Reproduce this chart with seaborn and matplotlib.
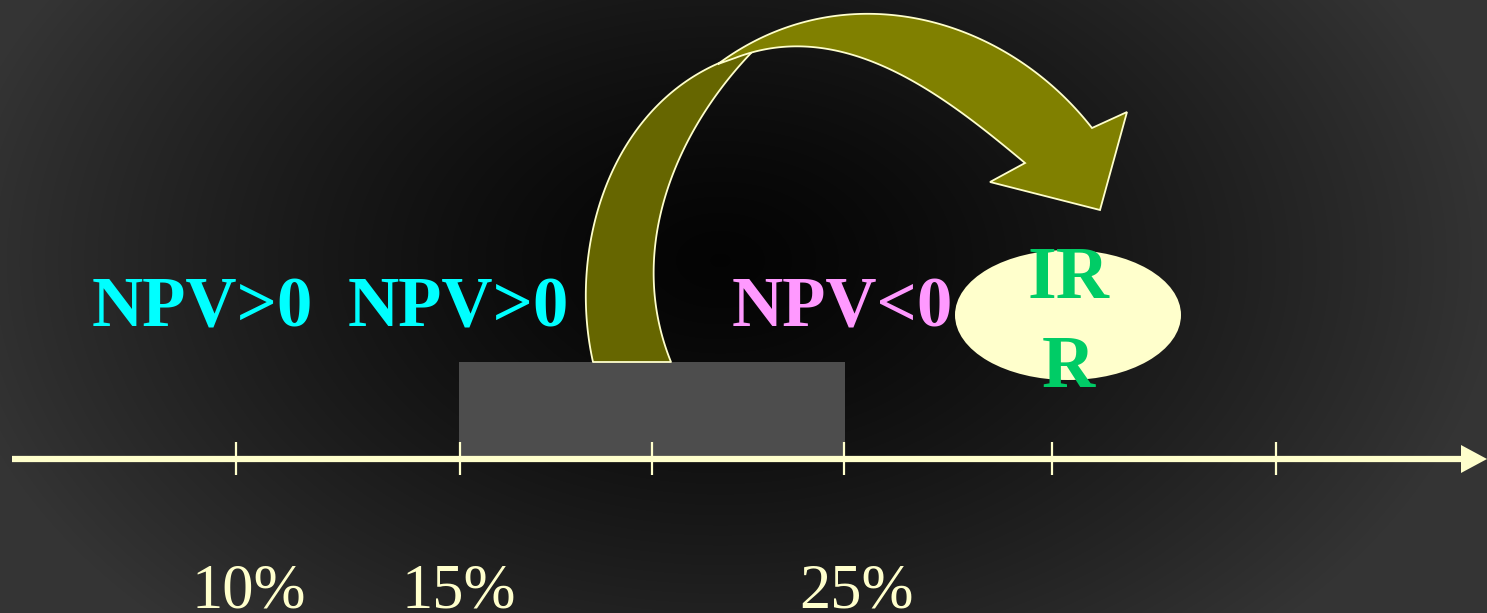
import numpy as np
import pandas as pd
import matplotlib
matplotlib.use("Agg")
import matplotlib.pyplot as plt
import seaborn as sns
from matplotlib.patches import Polygon, Ellipse, Rectangle

# ---- data ----
tick_positions = [236, 460, 652, 844, 1052, 1276]
rate_labels = ["10%", "15%", "25%"]
rate_label_x = [249, 459, 856]
npv_labels = ["NPV>0", "NPV>0", "NPV<0"]
npv_label_x = [202, 458, 842]
npv_colors = ["#00ffff", "#00ffff", "#ff99ff"]
irr_lines = ["IR", "R"]
band_range = [459, 845]

sns.set_theme(style="white")
plt.rcParams['font.family'] = ['Liberation Serif', 'DejaVu Serif']

W, H = 1487, 613
fig = plt.figure(figsize=(W / 100, H / 100), dpi=100)
ax = fig.add_axes([0, 0, 1, 1])
ax.set_xlim(0, W)
ax.set_ylim(H, 0)
ax.axis("off")


def bezier_through(points, n=120):
    """Least-squares cubic Bezier (fixed ends) through traced outline points."""
    p = np.asarray(points, dtype=float)
    seg = np.sqrt((np.diff(p, axis=0) ** 2).sum(axis=1))
    t = np.concatenate([[0], np.cumsum(seg)]) / seg.sum()
    p0, p3 = p[0], p[-1]
    for _ in range(3):
        b0, b1, b2, b3 = (1 - t) ** 3, 3 * (1 - t) ** 2 * t, 3 * (1 - t) * t ** 2, t ** 3
        A = np.column_stack([b1, b2])
        rhs = p - np.outer(b0, p0) - np.outer(b3, p3)
        ctrl, *_ = np.linalg.lstsq(A, rhs, rcond=None)
        p1, p2 = ctrl
        # reparameterize by nearest point on the dense curve
        tt = np.linspace(0, 1, 400)
        curve = (np.outer((1 - tt) ** 3, p0) + np.outer(3 * (1 - tt) ** 2 * tt, p1)
                 + np.outer(3 * (1 - tt) * tt ** 2, p2) + np.outer(tt ** 3, p3))
        dist = ((p[:, None, :] - curve[None, :, :]) ** 2).sum(axis=2)
        t = tt[dist.argmin(axis=1)]
        t[0], t[-1] = 0.0, 1.0
    tt = np.linspace(0, 1, n)
    return (np.outer((1 - tt) ** 3, p0) + np.outer(3 * (1 - tt) ** 2 * tt, p1)
            + np.outer(3 * (1 - tt) * tt ** 2, p2) + np.outer(tt ** 3, p3))


# background radial gradient
yy, xx = np.mgrid[0:H, 0:W]
d = np.sqrt(((xx - 720) / 780.0) ** 2 + ((yy - 260) / 520.0) ** 2)
v = 0.015 + 0.19 * np.clip(d, 0, 1) ** 1.3
img = np.dstack([v, v, v])
ax.imshow(img, extent=[0, W, H, 0], aspect="auto", zorder=0)

# gray band
ax.add_patch(Rectangle((band_range[0], 362), band_range[1] - band_range[0], 459 - 362,
                       facecolor="#4d4d4d", edgecolor="none", zorder=1))

# axis line via seaborn
axis_df = pd.DataFrame({"x": [12, 1465], "y": [459, 459]})
sns.lineplot(data=axis_df, x="x", y="y", ax=ax, color="#ffffcc", linewidth=4.5,
             zorder=3, solid_capstyle="butt")
ax.add_patch(Polygon([(1461, 445), (1487, 459), (1461, 473)], closed=True,
                     facecolor="#ffffcc", edgecolor="none", zorder=3))
ax.vlines(tick_positions, 442, 475, color="#ffffcc", linewidth=1.6, zorder=3)

# curved arrow: back band (darker)
back_outer = bezier_through([(593, 362), (587, 300), (591, 240), (595, 220), (608, 180),
                             (625, 147), (642, 120), (662, 100), (685, 83), (708, 71),
                             (735, 59), (752, 52)])
back_inner = bezier_through([(752, 52), (735, 70), (718, 93), (702, 120), (685, 147),
                             (672, 173), (657, 220), (655, 250), (657, 300), (662, 333),
                             (671, 362)])
back_poly = np.vstack([back_outer, back_inner[1:]])
ax.add_patch(Polygon(back_poly, closed=True, facecolor="#666600", edgecolor="#ffffcc",
                     linewidth=1.3, joinstyle="round", zorder=2))

front_outer = bezier_through([(718, 64), (753, 45), (787, 29), (820, 18), (867, 13),
                              (920, 17), (970, 33), (1020, 63), (1053, 90), (1092, 128)])
head = np.array([(1127, 112), (1100, 210), (990, 182)])
front_inner = bezier_through([(1025, 163), (993, 137), (953, 107), (903, 75), (853, 55),
                              (803, 47), (765, 49), (735, 58)])
front_poly = np.vstack([front_outer, head, front_inner])
ax.add_patch(Polygon(front_poly, closed=True, facecolor="#808000", edgecolor="#ffffcc",
                     linewidth=1.3, joinstyle="miter", zorder=2))

# ellipse
ax.add_patch(Ellipse((1068, 315), 226, 130, facecolor="#ffffcc", edgecolor="none", zorder=2))

# texts
for x, t, c in zip(npv_label_x, npv_labels, npv_colors):
    ax.text(x, 327, t, color=c, fontsize=51, fontweight="bold", ha="center",
            va="baseline", zorder=4)
ax.text(1068, 298, irr_lines[0], color="#00cc66", fontsize=53, fontweight="bold",
        ha="center", va="baseline", zorder=4)
ax.text(1068, 387, irr_lines[1], color="#00cc66", fontsize=53, fontweight="bold",
        ha="center", va="baseline", zorder=4)
for x, t in zip(rate_label_x, rate_labels):
    ax.text(x, 607, t, color="#ffffcc", fontsize=45, ha="center", va="baseline", zorder=4)

fig.savefig("out.png", dpi=100)
